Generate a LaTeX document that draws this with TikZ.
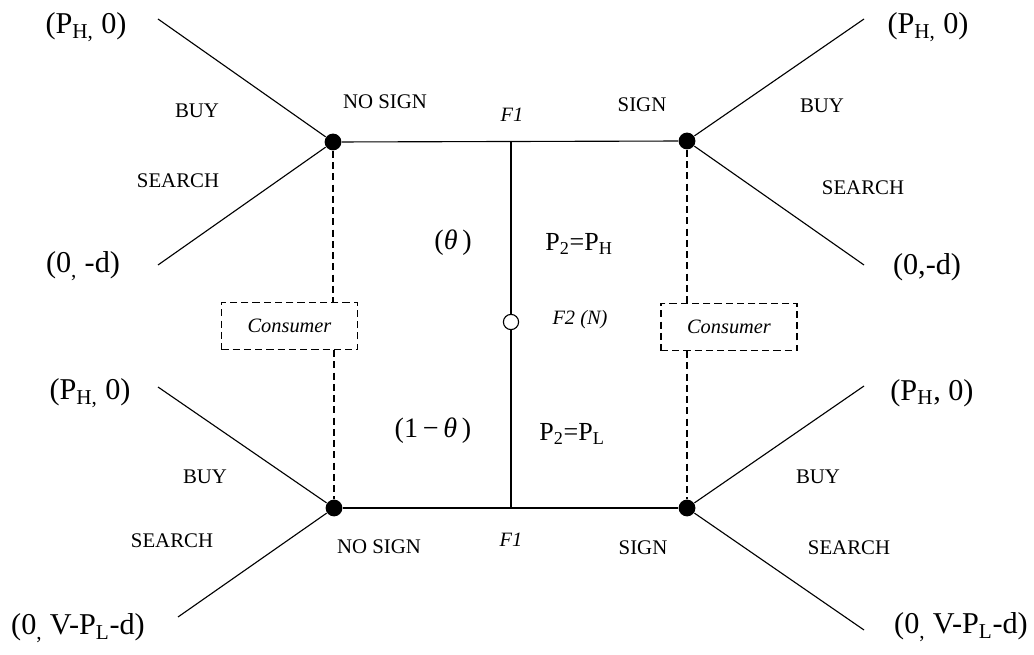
\documentclass[tikz,border=0pt]{standalone}
\usepackage{fontspec}
\setmainfont{Liberation Serif}
\usetikzlibrary{positioning}

\tikzset{
  decision/.style={circle, fill=black, inner sep=0pt, minimum size=0.42cm},
  chance/.style={circle, draw=black, fill=white, line width=0.8pt, inner sep=0pt, minimum size=0.38cm},
  infoline/.style={line width=0.8pt, dash pattern=on 5pt off 3pt},
  infobox/.style={draw, infoline, minimum width=3.4cm, minimum height=1.18cm, font=\fontsize{14.5}{17}\selectfont\itshape},
  payoff/.style={inner sep=0pt, font=\fontsize{21.5}{25}\selectfont},
  action/.style={inner sep=0pt, font=\fontsize{14.8}{17}\selectfont},
  player/.style={inner sep=0pt, font=\fontsize{14.5}{17}\selectfont\itshape},
  nature/.style={inner sep=0pt, font=\fontsize{18.5}{22}\selectfont},
  prob/.style={inner sep=0pt, font=\fontsize{20}{24}\selectfont}
}

\begin{document}
\begin{tikzpicture}[x=0.025cm, y=-0.025cm, line width=0.8pt]
          \useasboundingbox (0,0) rectangle (1034,655);

          % Nodos de decision del consumidor
          \node[decision] (cTL) at (333,142) {};
          \node[decision] (cTR) at (687,141) {};
          \node[decision] (cBL) at (334,508) {};
          \node[decision] (cBR) at (687,508) {};

          % Finales de las ramas
          \coordinate (eTLu) at (158,19);
          \coordinate (eTLd) at (158,265);
          \coordinate (eTRu) at (864,19);
          \coordinate (eTRd) at (864,265);
          \coordinate (eBLu) at (158,387);
          \coordinate (eBLd) at (178,617);
          \coordinate (eBRu) at (864,386);
          \coordinate (eBRd) at (864,630);

          % Empresa F1 y naturaleza F2
          \coordinate (f1top) at (511,141.5);
          \coordinate (f1bot) at (511,508);
          \node[chance] (f2) at (511,322) {};

          % Conjuntos de informacion
          \node[infobox] (infoL) at (289.5,326) {Consumer};
          \node[infobox] (infoR) at (729,327) {Consumer};

          % Aristas
          \draw (cTL) -- (cTR);
          \draw (cBL) -- (cBR);
          \draw (f1top) -- (f2) -- (f1bot);
          \draw (cTL) -- (eTLu);
          \draw (cTL) -- (eTLd);
          \draw (cTR) -- (eTRu);
          \draw (cTR) -- (eTRd);
          \draw (cBL) -- (eBLu);
          \draw (cBL) -- (eBLd);
          \draw (cBR) -- (eBRu);
          \draw (cBR) -- (eBRd);

          % Lineas punteadas
          \draw[infoline] (cTL) -- (cTL |- infoL.north);
          \draw[infoline] (infoL.south -| cBL) -- (cBL);
          \draw[infoline] (cTR) -- (cTR |- infoR.north);
          \draw[infoline] (infoR.south -| cBR) -- (cBR);

          % Pagos
          \node[payoff] (pTLu) at (86,27) {(P\textsubscript{H,} 0)};
          \node[payoff] (pTLd) at (83,266) {(0\textsubscript{,} -d)};
          \node[payoff] (pTRu) at (928,27) {(P\textsubscript{H,} 0)};
          \node[payoff] (pTRd) at (927,267) {(0,-d)};
          \node[payoff] (pBLu) at (90,393) {(P\textsubscript{H,} 0)};
          \node[payoff] (pBLd) at (78,628) {(0\textsubscript{,} V-P\textsubscript{L}-d)};
          \node[payoff] (pBRu) at (932,393) {(P\textsubscript{H}, 0)};
          \node[payoff] (pBRd) at (961,627) {(0\textsubscript{,} V-P\textsubscript{L}-d)};

          % Acciones
          \node[action] (buyTL) at (197,111) {BUY};
          \node[action] (srchTL) at (178,181) {SEARCH};
          \node[action] (buyTR) at (822,106) {BUY};
          \node[action] (srchTR) at (863,188) {SEARCH};
          \node[action] (buyBL) at (205,477) {BUY};
          \node[action] (srchBL) at (172,541) {SEARCH};
          \node[action] (buyBR) at (818,477) {BUY};
          \node[action] (srchBR) at (849,548) {SEARCH};
          \node[action] (nosignT) at (385,102) {NO SIGN};
          \node[action] (signT) at (642,105) {SIGN};
          \node[action] (nosignB) at (379,547) {NO SIGN};
          \node[action] (signB) at (643,548) {SIGN};

          % Jugadores
          \node[player] (lblF1t) at (512,115) {F1};
          \node[player] (lblF1b) at (511,540) {F1};
          \node[player] (lblF2) at (580,320) {F2 (N)};

          % Probabilidades y precios
          \node[prob] (probH) at (453,243) {(\textit{θ}\,)};
          \node[prob] (probL) at (433,431) {(1\,−\,\textit{θ}\,)};
          \node[nature] (priceH) at (579,244) {P\textsubscript{2}=P\textsubscript{H}};
          \node[nature] (priceL) at (572,434) {P\textsubscript{2}=P\textsubscript{L}};
        \end{tikzpicture}
\end{document}
